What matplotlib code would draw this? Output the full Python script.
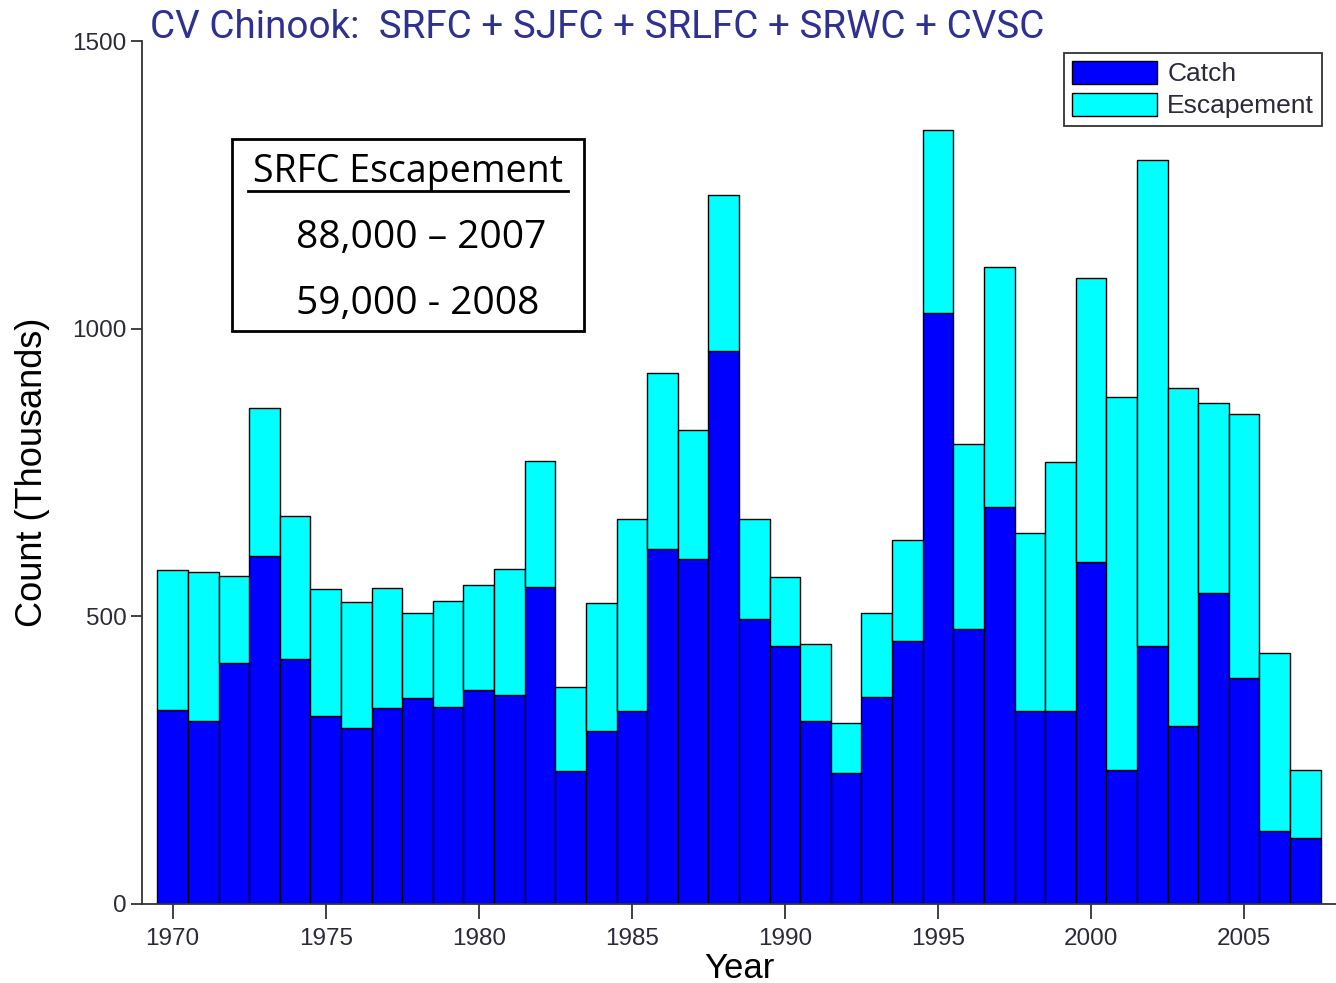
import matplotlib
matplotlib.use("Agg")
import matplotlib.pyplot as plt
from matplotlib.patches import Rectangle
from matplotlib.lines import Line2D
import numpy as np

years = list(range(1970, 2008))
catch = [337, 318, 419, 605, 426, 327, 306, 341, 358, 342, 372, 363, 551, 231, 301,
         335, 617, 600, 961, 495, 448, 318, 228, 360, 457, 1027, 478, 690, 335, 335,
         594, 233, 448, 309, 541, 393, 127, 115]
escapement = [244, 259, 151, 257, 248, 221, 219, 208, 148, 185, 182, 219, 219, 146, 222,
              334, 306, 224, 271, 174, 120, 134, 87, 146, 176, 318, 322, 417, 310, 433,
              494, 648, 845, 588, 330, 459, 309, 118]
x_ticks = [1970, 1975, 1980, 1985, 1990, 1995, 2000, 2005]
y_ticks = [0, 500, 1000, 1500]

sans = 'Liberation Sans'

W, H = 1336, 983
fig = plt.figure(figsize=(W / 100, H / 100), dpi=100)
fig.patch.set_facecolor('white')

def fx(px):
    return px / W

def fy(py):
    return 1 - py / H

ax = fig.add_axes([fx(142), fy(904), fx(1336) - fx(142), fy(41) - fy(904)])
ax.bar(years, catch, width=1.0, color='#0000FF', edgecolor='black', linewidth=1.0, label='Catch')
ax.bar(years, escapement, width=1.0, bottom=catch, color='#00FFFF', edgecolor='black',
       linewidth=1.0, label='Escapement')

ax.set_xlim(1969.0, 2008.0)
ax.set_ylim(0, 1500)
ax.set_xticks(x_ticks)
ax.set_yticks(y_ticks)
for s in ['top', 'right']:
    ax.spines[s].set_visible(False)
for s in ['left', 'bottom']:
    ax.spines[s].set_color('#333333')
    ax.spines[s].set_linewidth(1.3)
ax.tick_params(axis='x', length=11, width=1.3, color='#333333', pad=6,
               labelsize=17.5, labelcolor='#2a2a3a')
ax.tick_params(axis='y', length=8, width=1.3, color='#333333', pad=3,
               labelsize=17.5, labelcolor='#2a2a3a')
for lab in ax.get_xticklabels() + ax.get_yticklabels():
    lab.set_family(sans)

ax.set_xlabel('Year', fontsize=25, family=sans, labelpad=1.5)
ax.set_ylabel('Count (Thousands)', fontsize=26, family=sans, labelpad=16)

leg = ax.legend(loc='upper right',
                bbox_to_anchor=(fx(1322 - 142) / (fx(1336) - fx(142)), 1.0 - (53 - 41) / (904 - 41)),
                prop={'family': sans, 'size': 19}, frameon=True, fancybox=False,
                edgecolor='black', handlelength=3.2, handleheight=0.95,
                borderpad=0.3, labelspacing=0.25, handletextpad=0.4, borderaxespad=0.0)
leg.get_frame().set_linewidth(1.3)
for t in leg.get_texts():
    t.set_color('#2a2a3a')

# Title
fig.text(fx(150), fy(28), 'CV Chinook:  SRFC + SJFC + SRLFC + SRWC + CVSC',
         fontsize=27.8, family='Roboto', color='#2E3192', ha='left', va='center')

# Annotation box
fig.patches.append(Rectangle((fx(232), fy(331)), fx(584) - fx(232), fy(139) - fy(331),
                             transform=fig.transFigure, facecolor='white',
                             edgecolor='black', linewidth=2.0))
fig.text(fx(408), fy(172), 'SRFC Escapement', fontsize=27, family='Open Sans',
         ha='center', va='center', color='black')
fig.lines.append(Line2D([fx(248), fx(568)], [fy(191), fy(191)], transform=fig.transFigure,
                        color='black', linewidth=2.0))
fig.text(fx(296), fy(238), '88,000 \u2013 2007', fontsize=28, family='Open Sans',
         ha='left', va='center', color='black')
fig.text(fx(296), fy(304), '59,000 - 2008', fontsize=28, family='Open Sans',
         ha='left', va='center', color='black')

fig.savefig('out.png', dpi=100)
